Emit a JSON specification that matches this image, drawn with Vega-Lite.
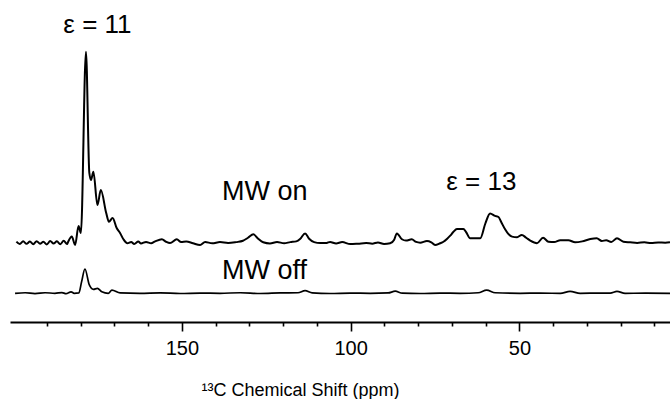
{
  "$schema": "https://vega.github.io/schema/vega-lite/v6.json",
  "width": 660,
  "height": 322,
  "padding": {"left": 10, "top": 0, "right": 0, "bottom": 0},
  "background": "white",
  "config": {"view": {"stroke": null}, "font": "Liberation Sans"},
  "datasets": {
    "on": [
      {"ppm":199,"I":0.5},{"ppm":198,"I":-0.8},{"ppm":197,"I":0.6},{"ppm":196,"I":-0.7},{"ppm":195,"I":0.5},{"ppm":194,"I":-0.9},{"ppm":193,"I":0.7},{"ppm":192,"I":-0.6},{"ppm":191,"I":0.4},{"ppm":190,"I":-1.0},{"ppm":189,"I":0.8},{"ppm":188,"I":-0.5},{"ppm":187,"I":0.6},{"ppm":186,"I":-0.9},{"ppm":185,"I":0.9},{"ppm":184,"I":-0.8},{"ppm":183.7,"I":0.3},{"ppm":182.6,"I":3.1},{"ppm":181.6,"I":-1.3},{"ppm":180.6,"I":8.7},{"ppm":179.9,"I":5.0},{"ppm":178.4,"I":100.4},{"ppm":177.4,"I":36.6},{"ppm":176.9,"I":32.9},{"ppm":176.2,"I":37.3},{"ppm":175.0,"I":19.7},{"ppm":174.0,"I":27.6},{"ppm":172.4,"I":15.5},{"ppm":171.6,"I":10.9},{"ppm":170.5,"I":12.9},{"ppm":169.3,"I":7.6},{"ppm":168.3,"I":5.0},{"ppm":167.3,"I":1.7},{"ppm":166.1,"I":-0.4},{"ppm":165.0,"I":0.3},{"ppm":164.1,"I":-0.8},{"ppm":162.9,"I":0.5},{"ppm":162.1,"I":-0.5},{"ppm":160.6,"I":0.3},{"ppm":159.1,"I":-0.4},{"ppm":157.9,"I":0.6},{"ppm":155.9,"I":1.7},{"ppm":154.7,"I":0.4},{"ppm":153.5,"I":-0.3},{"ppm":151.5,"I":1.7},{"ppm":150.2,"I":0.2},{"ppm":148.7,"I":0.5},{"ppm":146.7,"I":-0.4},{"ppm":144.6,"I":-1.3},{"ppm":143.1,"I":0.3},{"ppm":141.0,"I":-0.4},{"ppm":138.7,"I":0.2},{"ppm":136.3,"I":-0.3},{"ppm":133.9,"I":0.2},{"ppm":131.9,"I":0.9},{"ppm":130.4,"I":2.5},{"ppm":128.8,"I":4.3},{"ppm":127.4,"I":2.0},{"ppm":125.9,"I":0.1},{"ppm":123.9,"I":-0.5},{"ppm":121.8,"I":0.3},{"ppm":119.7,"I":-0.4},{"ppm":117.9,"I":0.2},{"ppm":116.1,"I":0.6},{"ppm":114.9,"I":2.0},{"ppm":113.5,"I":4.8},{"ppm":112.3,"I":2.0},{"ppm":110.8,"I":0.2},{"ppm":109.0,"I":-0.3},{"ppm":107.1,"I":-0.2},{"ppm":106.1,"I":0.3},{"ppm":104.3,"I":-0.5},{"ppm":102.5,"I":0.2},{"ppm":100.1,"I":-0.8},{"ppm":97.8,"I":-0.6},{"ppm":95.4,"I":-0.3},{"ppm":93.6,"I":-0.6},{"ppm":91.9,"I":0.0},{"ppm":90.1,"I":-0.8},{"ppm":88.3,"I":-0.4},{"ppm":87.1,"I":1.5},{"ppm":86.3,"I":4.8},{"ppm":84.8,"I":1.7},{"ppm":83.6,"I":1.0},{"ppm":81.9,"I":1.7},{"ppm":80.6,"I":0.3},{"ppm":79.4,"I":-0.1},{"ppm":77.4,"I":0.8},{"ppm":76.1,"I":0.1},{"ppm":75.0,"I":-1.3},{"ppm":73.5,"I":-0.4},{"ppm":72.5,"I":0.4},{"ppm":71.4,"I":2.0},{"ppm":70.5,"I":3.6},{"ppm":69.6,"I":5.5},{"ppm":68.5,"I":7.1},{"ppm":66.6,"I":7.1},{"ppm":65.8,"I":5.5},{"ppm":64.6,"I":2.2},{"ppm":63.1,"I":2.2},{"ppm":61.6,"I":2.2},{"ppm":60.1,"I":10.0},{"ppm":58.7,"I":15.3},{"ppm":57.2,"I":14.0},{"ppm":56.2,"I":13.4},{"ppm":55.4,"I":10.8},{"ppm":54.2,"I":6.8},{"ppm":53.3,"I":4.5},{"ppm":52.2,"I":3.1},{"ppm":50.7,"I":2.8},{"ppm":49.3,"I":4.0},{"ppm":48.0,"I":2.5},{"ppm":46.8,"I":1.0},{"ppm":44.8,"I":-0.4},{"ppm":43.0,"I":2.5},{"ppm":41.4,"I":0.4},{"ppm":39.7,"I":0.2},{"ppm":37.9,"I":1.2},{"ppm":35.5,"I":1.2},{"ppm":33.5,"I":0.1},{"ppm":31.4,"I":0.6},{"ppm":29.0,"I":1.8},{"ppm":27.1,"I":2.2},{"ppm":25.6,"I":0.8},{"ppm":24.3,"I":1.2},{"ppm":22.8,"I":0.3},{"ppm":21.1,"I":2.2},{"ppm":19.2,"I":0.4},{"ppm":17.2,"I":0.1},{"ppm":15.1,"I":-0.2},{"ppm":13.0,"I":0.1},{"ppm":11.0,"I":-0.3},{"ppm":8.9,"I":0.0},{"ppm":6.8,"I":-0.1},{"ppm":5.4,"I":0.1}
    ],
    "off": [
      {"ppm":199.4,"I":0.0},{"ppm":196.4,"I":0.3},{"ppm":193.5,"I":-0.2},{"ppm":190.5,"I":0.3},{"ppm":187.6,"I":0.0},{"ppm":185.5,"I":0.4},{"ppm":184.3,"I":-0.2},{"ppm":182.8,"I":0.8},{"ppm":181.9,"I":0.0},{"ppm":180.5,"I":0.2},{"ppm":179.7,"I":6.0},{"ppm":178.7,"I":12.8},{"ppm":177.4,"I":4.4},{"ppm":176.2,"I":2.1},{"ppm":175.0,"I":2.6},{"ppm":173.7,"I":0.8},{"ppm":171.8,"I":0.0},{"ppm":170.7,"I":1.7},{"ppm":168.3,"I":0.2},{"ppm":162.4,"I":0.0},{"ppm":156.4,"I":0.2},{"ppm":150.5,"I":-0.1},{"ppm":144.6,"I":0.1},{"ppm":138.7,"I":0.0},{"ppm":132.7,"I":0.3},{"ppm":126.8,"I":-0.1},{"ppm":120.9,"I":0.2},{"ppm":115.6,"I":0.3},{"ppm":113.5,"I":1.4},{"ppm":111.4,"I":0.2},{"ppm":106.1,"I":-0.1},{"ppm":100.1,"I":0.1},{"ppm":94.2,"I":0.0},{"ppm":88.9,"I":0.2},{"ppm":86.8,"I":1.1},{"ppm":84.7,"I":0.1},{"ppm":79.4,"I":-0.1},{"ppm":73.5,"I":0.1},{"ppm":67.6,"I":0.0},{"ppm":62.2,"I":0.3},{"ppm":59.7,"I":1.7},{"ppm":57.2,"I":0.3},{"ppm":49.8,"I":0.0},{"ppm":43.9,"I":0.1},{"ppm":37.9,"I":0.0},{"ppm":35.0,"I":1.0},{"ppm":32.0,"I":0.0},{"ppm":26.1,"I":0.1},{"ppm":23.1,"I":0.1},{"ppm":21.1,"I":1.0},{"ppm":18.7,"I":0.0},{"ppm":12.7,"I":0.1},{"ppm":5.4,"I":0.0}
    ],
    "labelsC": [
      {"ppm":175.0,"I":110.3,"text":"ε = 11"},
      {"ppm":61.3,"I":27.6,"text":"ε = 13"}
    ],
    "labelsL": [
      {"ppm":138.1,"I":22.4,"text":"MW on"},
      {"ppm":138.1,"I":-19.2,"text":"MW off"}
    ]
  },
  "encoding": {
    "x": {
      "field": "ppm",
      "type": "quantitative",
      "scale": {"domain": [200.9, 5.4], "nice": false, "zero": false},
      "axis": {
        "values": [10,20,30,40,50,60,70,80,90,100,110,120,130,140,150,160,170,180,190],
        "labelExpr": "datum.value % 50 === 0 ? datum.label : ''",
        "labelOverlap": false,
        "tickSize": {"condition": {"test": "datum.value % 50 === 0", "value": 9}, "value": 4},
        "tickWidth": 1.6,
        "tickColor": "#000000",
        "domainColor": "#000000",
        "domainWidth": 2.2,
        "grid": false,
        "labelFont": "Liberation Sans",
        "labelFontSize": 20,
        "labelColor": "#000000",
        "labelPadding": 7,
        "title": "¹³C Chemical Shift (ppm)",
        "titleFont": "Liberation Sans",
        "titleFontSize": 18,
        "titleFontWeight": "normal",
        "titleColor": "#000000",
        "titlePadding": 23,
        "titleX": 290
      }
    }
  },
  "layer": [
    {
      "layer": [
        {
          "data": {"name": "on"},
          "mark": {"type": "line", "color": "#000000", "strokeWidth": 2, "interpolate": "monotone"},
          "encoding": {
            "y": {"field": "I", "type": "quantitative", "scale": {"domain": [-41.84, 127.63], "nice": false, "zero": false}, "axis": null}
          }
        },
        {
          "data": {"name": "labelsC"},
          "mark": {"type": "text", "font": "Liberation Sans", "fontSize": 26, "color": "#000000", "baseline": "alphabetic", "align": "center"},
          "encoding": {
            "y": {"field": "I", "type": "quantitative"},
            "text": {"field": "text"}
          }
        },
        {
          "data": {"name": "labelsL"},
          "mark": {"type": "text", "font": "Liberation Sans", "fontSize": 27, "color": "#000000", "baseline": "alphabetic", "align": "left"},
          "encoding": {
            "y": {"field": "I", "type": "quantitative"},
            "text": {"field": "text"}
          }
        }
      ]
    },
    {
      "data": {"name": "off"},
      "mark": {"type": "line", "color": "#000000", "strokeWidth": 1.7, "interpolate": "monotone"},
      "encoding": {
        "y": {"field": "I", "type": "quantitative", "scale": {"domain": [-15.1, 154.37], "nice": false, "zero": false}, "axis": null}
      }
    }
  ],
  "resolve": {"scale": {"y": "independent"}}
}
